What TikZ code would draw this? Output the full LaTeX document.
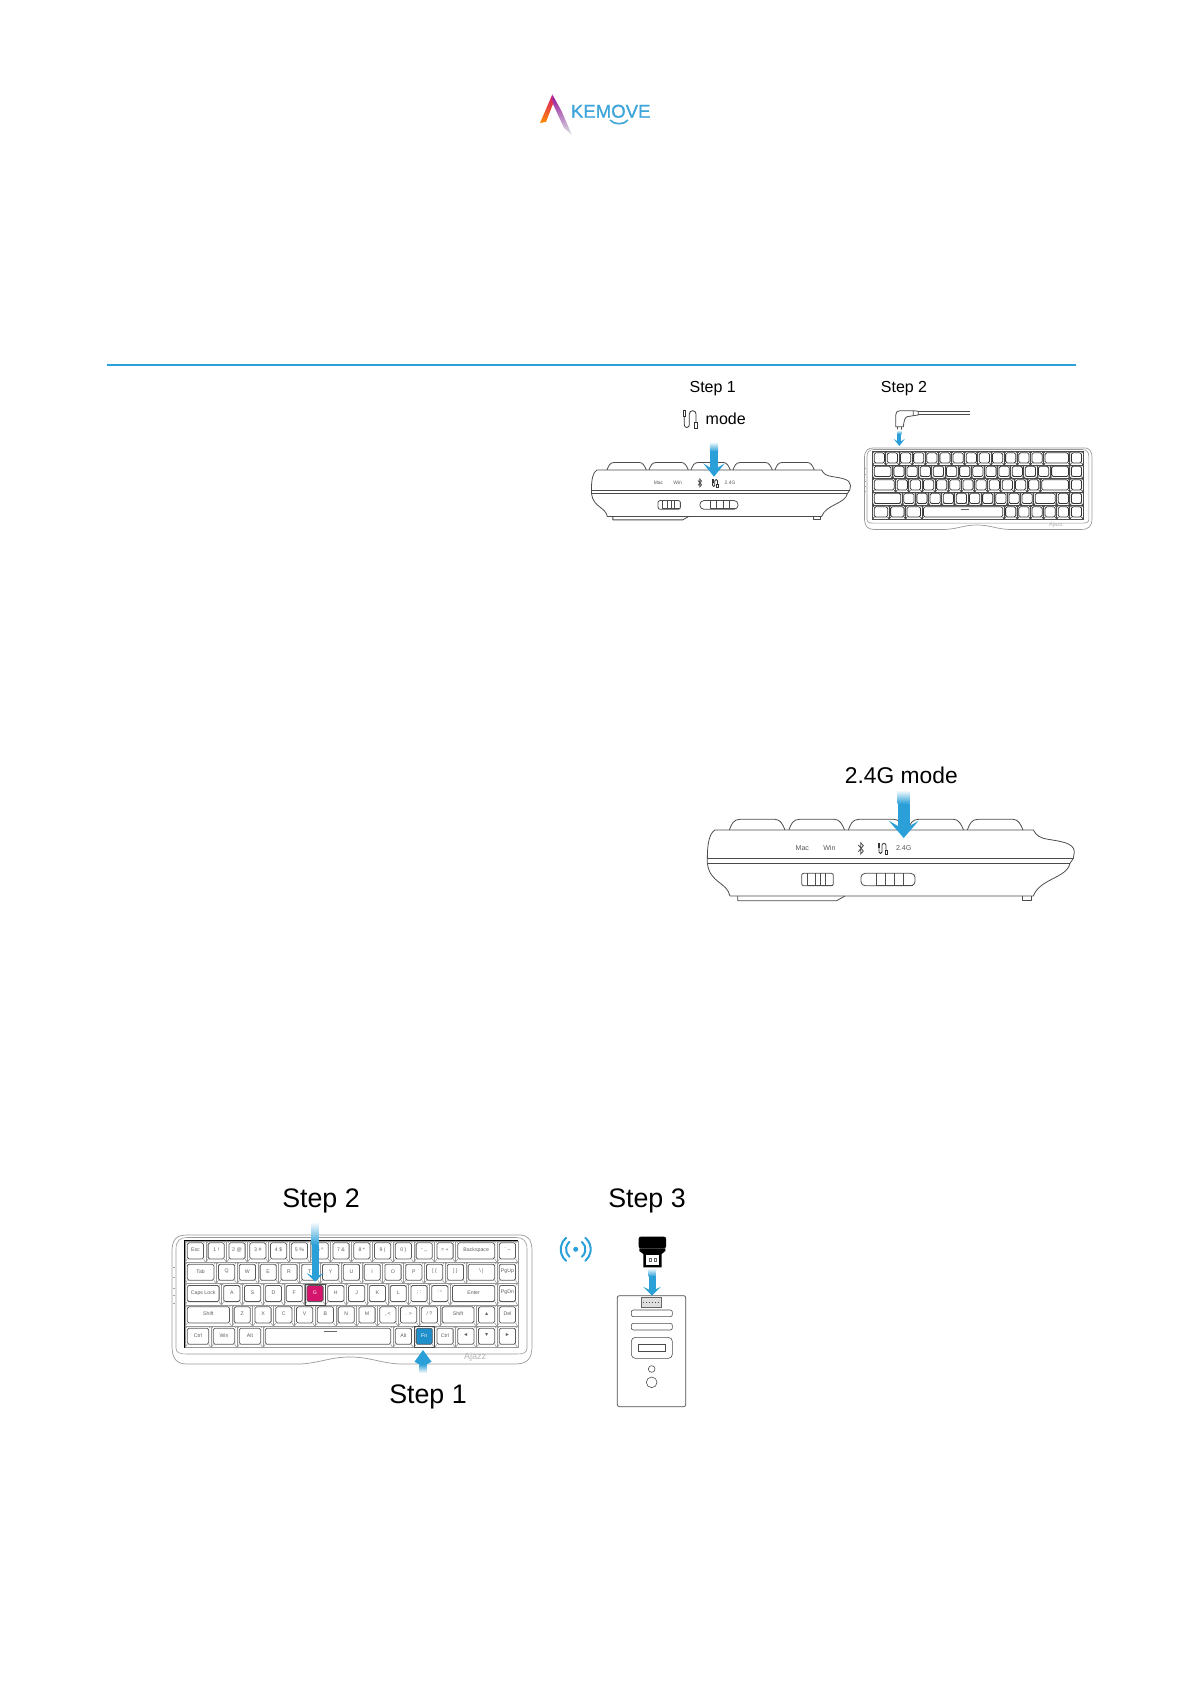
\documentclass[tikz,border=0pt]{standalone}
\usepackage{fontspec}
\setmainfont{Liberation Sans}
\definecolor{stepblue}{HTML}{2A9FD8}
\definecolor{logoblue}{HTML}{3DA5D9}
\definecolor{gkeyred}{HTML}{D5146D}
\definecolor{fnkeyblue}{HTML}{1E8FCB}
\tikzset{
    smalllabel/.style={font=\fontsize{8}{10}\selectfont, inner sep=0pt},
    midlabel/.style={font=\fontsize{11.4}{14}\selectfont, inner sep=0pt},
    biglabel/.style={font=\fontsize{13.4}{16}\selectfont, inner sep=0pt},
    switchtext/.style={font=\fontsize{10.6}{12}\selectfont, text=gray!70!black, inner sep=0pt, transform shape},
    keylabel/.style={font=\fontsize{2.6}{3}\selectfont, text=gray!75!black, inner sep=0pt},
    keyouter/.style={draw=gray!80, line width=0.3pt},
    keyinner/.style={draw=black!65, line width=0.4pt, rounded corners=0.8pt},
    bodyline/.style={draw=black!70, line width=0.4pt, line join=round},
    % cable symbol
    cableicon/.pic={
        \draw[line width=0.4pt, black!80] (6,2) rectangle (14,20);
        \draw[line width=0.4pt, black!80] (10,20) -- (10,45) arc (180:0:7.5) -- (25,12) arc (180:360:10) -- (45,38);
        \draw[line width=0.4pt, black!80] (40,38) rectangle (50,55);
    },
    % keyboard seen from behind
    sideview/.pic={
        % Draw key tops
        \foreach \cx in {118,296.5,475,653.5,832} {
            \draw[bodyline] (\cx,240) .. controls ({\cx+7},222) and ({\cx+12},208) .. ({\cx+32},208)
                -- ({\cx+137},208) .. controls ({\cx+152},208) and ({\cx+160},222) .. ({\cx+167},240);
        }
        % Draw body
        \draw[bodyline] (75,240) -- (1030,240) .. controls (1040,258) and (1050,264) .. (1075,268)
            .. controls (1110,274) and (1152,278) .. (1153,305) -- (1150,325) -- (1140,340)
            .. controls (1130,385) and (1050,385) .. (1030,438) -- (120,438)
            .. controls (110,395) and (60,400) .. (52,340) -- (52,325) .. controls (52,280) and (58,250) .. (75,240);
        \draw[bodyline] (52,325) -- (1150,325);
        \draw[bodyline] (52,340) -- (1140,340);
        \draw[bodyline] (143,438) -- (143,452) -- (440,452) -- (465,438);
        \draw[bodyline] (997,438) -- (997,450) -- (1025,450) -- (1025,438);
        % Draw switches
        \draw[bodyline, rounded corners=1pt] (335,370) rectangle (430,407);
        \draw[bodyline] (352,370) -- (352,405) -- (430,405);
        \foreach \lx in {375,390,405} {
            \draw[bodyline] (\lx,370) -- (\lx,405);
        }
        \draw[bodyline, rounded corners=2pt] (513,370) rectangle (675,407);
        \draw[bodyline] (558,370) -- (558,405) -- (668,405);
        \foreach \lx in {585,612,640} {
            \draw[bodyline] (\lx,370) -- (\lx,405);
        }
        % Labels of the switches
        \node[switchtext] (mactext) at (337,295) {Mac};
        \node[switchtext] (wintext) at (418,295) {Win};
        \node[switchtext] (gtext) at (641,295) {2.4G};
        \draw[line width=0.4pt, black!70] (505,285) -- (520,303) -- (512,312) -- (512,278) -- (520,287) -- (505,305);
        \pic[scale=0.6, transform shape] at (561,279) {cableicon};
    },
    % keyboard seen from above
    topview/.pic={
        % Draw case
        \draw[draw=gray!80, line width=0.35pt] (-13,10) .. controls (-13,-2) and (-8,-6) .. (2,-6) -- (335,-6)
            .. controls (342,-6) and (347,-2) .. (347,10) -- (347,105) .. controls (347,118) and (342,123) .. (330,123)
            -- (215,123) .. controls (195,122) and (185,116) .. (165,116) .. controls (145,116) and (135,122) .. (115,123)
            -- (2,123) .. controls (-8,123) and (-13,118) .. (-13,105) -- cycle;
        \draw[draw=gray!80, line width=0.3pt] (-9,8) .. controls (-9,0) and (-5,-3.5) .. (2,-3.5) -- (331,-3.5)
            .. controls (338,-3.5) and (342,0) .. (342,8) -- (342,107) .. controls (342,112) and (338,113) .. (331,113)
            -- (2,113) .. controls (-5,113) and (-9,112) .. (-9,107) -- cycle;
        \foreach \ly in {26,36,47,54,62} {
            \draw[draw=gray!70, line width=0.3pt] (-12,\ly) -- (-10,\ly);
        }
        \draw[draw=black, line width=0.6pt] (0,0) rectangle (332.8,106.7);
        \node[font=\fontsize{4.5}{5}\selectfont, text=gray!60, inner sep=0pt, transform shape] (logoprint) at (290,115.7) {Ajazz};
        % Draw keys
        \foreach \ktxt [count=\kx from 0] in {Esc,1 !,2 @,3 \#,4 \$,5 \%,6 \^{},7 \&,8 *,9 (,0 ),- \_,= +} {
            \keycap{\kx}{0}{1}{\ktxt}
        }
        \keycap{13}{0}{2}{Backspace}
        \keycap{15}{0}{1}{\textasciigrave\ \textasciitilde}
        \keycap{0}{1}{1.5}{Tab}
        \foreach \ktxt [count=\kx from 0] in {Q,W,E,R,T,Y,U,I,O,P,[ \{,] \}} {
            \keycap{\kx+1.5}{1}{1}{\ktxt}
        }
        \keycap{13.5}{1}{1.5}{\textbackslash\ |}
        \keycap{15}{1}{1}{PgUp}
        \keycap{0}{2}{1.75}{Caps Lock}
        \foreach \ktxt [count=\kx from 0] in {A,S,D,F,G,H,J,K,L,{; :},{' "}} {
            \keycap{\kx+1.75}{2}{1}{\ktxt}
        }
        \keycap{12.75}{2}{2.25}{Enter}
        \keycap{15}{2}{1}{PgDn}
        \keycap{0}{3}{2.25}{Shift}
        \foreach \ktxt [count=\kx from 0] in {Z,X,C,V,B,N,M,{, <},{. >},{/ ?}} {
            \keycap{\kx+2.25}{3}{1}{\ktxt}
        }
        \keycap{12.25}{3}{1.75}{Shift}
        \keycap{14}{3}{1}{▲}
        \keycap{15}{3}{1}{Del}
        \keycap{0}{4}{1.25}{Ctrl}
        \keycap{1.25}{4}{1.25}{Win}
        \keycap{2.5}{4}{1.25}{Alt}
        \keycap{3.75}{4}{6.25}{}
        \draw[line width=0.5pt, black!60] ({6.7*20.8},{4.25*21.34}) -- ({7.3*20.8},{4.25*21.34});
        \foreach \ktxt [count=\kx from 10] in {Alt,Fn,Ctrl,◄,▼,►} {
            \keycap{\kx}{4}{1}{\ktxt}
        }
    }
}
\newcommand{\keytext}[1]{#1}
% one key: fill, column, row, width in keys, label
\newcommand{\keycap}[5][white]{
    \draw[keyouter, fill=white] ({(#2)*20.8},{#3*21.34}) rectangle ({(#2+#4)*20.8},{(#3+1)*21.34});
    \draw[keyouter] ({(#2)*20.8},{#3*21.34}) -- ({(#2)*20.8+2.3},{#3*21.34+1.8});
    \draw[keyouter] ({(#2+#4)*20.8},{#3*21.34}) -- ({(#2+#4)*20.8-2.3},{#3*21.34+1.8});
    \draw[keyouter] ({(#2)*20.8},{(#3+1)*21.34}) -- ({(#2)*20.8+2.3},{(#3+1)*21.34-3.4});
    \draw[keyouter] ({(#2+#4)*20.8},{(#3+1)*21.34}) -- ({(#2+#4)*20.8-2.3},{(#3+1)*21.34-3.4});
    \draw[keyinner, fill=#1] ({(#2)*20.8+2.3},{#3*21.34+1.8}) rectangle ({(#2+#4)*20.8-2.3},{(#3+1)*21.34-3.4});
    \node[keylabel] (key#3x#2) at ({(#2+#4/2)*20.8},{(#3+0.42)*21.34}) {\keytext{#5}};
}
% arrow: x, top, tip, back of the head, half shaft, half head
\newcommand{\stepdown}[6]{
    \pgfmathsetmacro{\barb}{(#3-#4)*0.3}
    \shade[top color=white, bottom color=stepblue] ({#1-#5},#2) rectangle ({#1+#5},{#2+(#4-#2)*0.45});
    \fill[stepblue] ({#1-#5},{#2+(#4-#2)*0.45-0.2}) rectangle ({#1+#5},{#4+\barb+0.5});
    \fill[stepblue] ({#1-#6},#4) -- ({#1-#5},{#4+\barb}) -- ({#1+#5},{#4+\barb}) -- ({#1+#6},#4) -- (#1,#3) -- cycle;
}
\begin{document}
\begin{tikzpicture}[x=0.5pt, y=-0.5pt]
    \useasboundingbox (0,0) rectangle (1191,1684);

    % Logo
    \shade[top color=gkeyred, bottom color=orange!90!yellow] (552.3,94.5) -- (540,123) -- (546,122) -- (553,104) -- cycle;
    \shade[top color=gkeyred!70!blue, bottom color=cyan!15!gray!25] (552.3,94.5) -- (561,110) -- (572,135) -- (564,128) -- (553,104) -- cycle;
    \node[anchor=base, inner sep=0pt, text=logoblue, font=\fontsize{9.3}{11}\selectfont\addfontfeature{FakeBold=1}] (logotext) at (610.7,117.7) {KEMOVE};
    \draw[logoblue, line width=0.8pt] (610,120) .. controls (614,125) and (624,125) .. (628,120);

    % Rule
    \draw[stepblue, line width=1pt] (107.4,365.3) -- (1076,365.3);

    % First group
    \node[smalllabel] (stepone) at (712.7,388.7) {Step 1};
    \node[smalllabel] (modetext) at (725.7,419) {mode};
    \pic[scale=1/3] at (681,410) {cableicon};
    \pic[scale=0.2353] at (579.2,413.5) {sideview};
    \stepdown{714}{441.7}{476.7}{463.3}{4.2}{10.8}

    \node[smalllabel] (steptwo) at (904,388.7) {Step 2};
    % Cable with plug
    \begin{scope}[shift={(850,370)}, scale=1/3]
        \draw[bodyline] (143,170) -- (143,178) -- (155,178) -- (155,170);
        \draw[bodyline] (137,170) -- (137,135) .. controls (137,127) and (142,122) .. (150,122) -- (190,122) -- (190,137)
            -- (172,140) .. controls (165,142) and (162,150) .. (160,170) -- cycle;
        \draw[bodyline] (190,122) -- (205,124) -- (205,135) -- (190,137);
        \draw[bodyline] (205,125) -- (360,125);
        \draw[bodyline] (205,132) -- (360,132);
    \end{scope}
    \stepdown{899.3}{430}{446}{439}{2}{5.5}
    \begin{scope}[keyouter/.append style={draw=gray!60!black, line width=0.45pt},
                  keyinner/.append style={draw=black!80, line width=0.4pt}]
        \renewcommand{\keytext}[1]{}
        \pic[scale=0.632] at (872.7,451.7) {topview};
    \end{scope}

    % Second group
    \node[midlabel] (modelabel) at (901.3,775) {2.4G mode};
    \pic[scale=1/3] at (690,750) {sideview};
    \stepdown{903.7}{790}{838}{820.7}{6}{15}

    % Third group
    \node[biglabel] (steptwolow) at (321,1201.2) {Step 2};
    \node[biglabel] (steponelow) at (428,1396.8) {Step 1};
    \node[biglabel] (stepthree) at (647,1201.2) {Step 3};
    \pic at (185,1241) {topview};

    % Coloured keys
    \begin{scope}[shift={(185,1241)}, keylabel/.append style={text=white}]
        \keycap[gkeyred]{5.75}{2}{1}{G}
        \keycap[fnkeyblue]{11}{4}{1}{Fn}
    \end{scope}
    \draw[black!70, line width=0.5pt] (305,1284.4) rectangle (325.4,1305.7);
    \draw[black!70, line width=0.5pt] (414,1326.4) rectangle (434.6,1347.7);

    \stepdown{315}{1221.7}{1281.7}{1273}{3.5}{8.5}
    % Arrow pointing up
    \shade[top color=stepblue, bottom color=white] (419.5,1364) rectangle (426.5,1373);
    \fill[stepblue] (414.5,1361.7) -- (419.5,1364.5) -- (426.5,1364.5) -- (431.5,1361.7) -- (423,1350) -- cycle;

    % Wireless mark
    \fill[stepblue] (575.7,1249.3) circle (2.5);
    \foreach \rr in {9.7,15} {
        \draw[stepblue, line width=1pt, line cap=round] (575.7,1249.3) ++(-50:\rr) arc (-50:50:\rr);
        \draw[stepblue, line width=1pt, line cap=round] (575.7,1249.3) ++(130:\rr) arc (130:230:\rr);
    }

    % Dongle and computer
    \begin{scope}[shift={(540,1180)}, scale=1/3]
        \fill[black, rounded corners=1pt] (296,170) rectangle (378,205);
        \fill[black] (298,205) -- (298,213) -- (310,222) -- (310,262) -- (365,262) -- (365,222) -- (376,213) -- (376,205) -- cycle;
        \fill[white] (318,226) rectangle (358,254);
        \draw[black!60, line width=0.2pt] (328,234) rectangle (335,243);
        \draw[black!60, line width=0.2pt] (342,234) rectangle (350,243);
        \draw[draw=black!70, line width=0.35pt, rounded corners=1pt] (232,347) rectangle (437,680);
        \draw[draw=black!60, line width=0.35pt, fill=gray!25] (304,352) rectangle (365,382);
        \draw[draw=black!70, line width=0.5pt, densely dotted] (310,366) -- (359,366);
        \draw[draw=black!70, line width=0.3pt, rounded corners=1pt] (274,390) rectangle (397,410);
        \draw[draw=black!70, line width=0.3pt, rounded corners=1pt] (274,430) rectangle (397,450);
        \draw[draw=black!70, line width=0.3pt, rounded corners=2pt] (274,472) rectangle (397,535);
        \draw[draw=black!70, line width=0.3pt] (294,493) rectangle (377,515);
        \draw[draw=black!70, line width=0.3pt] (335,567) circle (10);
        \draw[draw=black!70, line width=0.3pt] (335,607) circle (16);
    \end{scope}
    \stepdown{652}{1268}{1295.7}{1286.7}{3.5}{9}
\end{tikzpicture}
\end{document}
